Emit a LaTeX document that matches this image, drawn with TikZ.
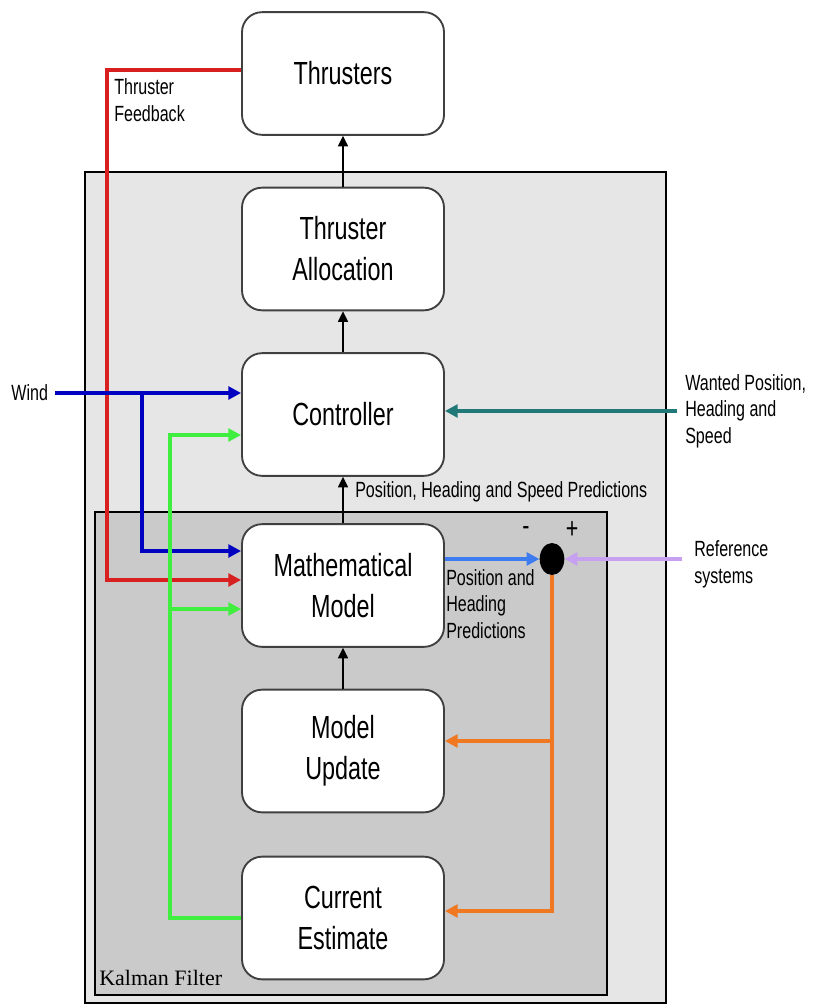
\documentclass[tikz,border=0pt]{standalone}
\usepackage{fontspec}
\setmainfont{Liberation Sans}[FakeStretch=0.73]
\newfontfamily\kfserif{Liberation Serif}
\usetikzlibrary{arrows.meta,calc,shapes.geometric}
\definecolor{outerfill}{HTML}{E6E6E6}
\definecolor{innerfill}{HTML}{CACACA}
\definecolor{cred}{HTML}{D82020}
\definecolor{cblue}{HTML}{0000C0}
\definecolor{cgreen}{HTML}{40EE40}
\definecolor{cteal}{HTML}{207878}
\definecolor{clblue}{HTML}{3C7CF0}
\definecolor{cpurple}{HTML}{C8A0F0}
\definecolor{corange}{HTML}{F07820}
\begin{document}
\begin{tikzpicture}[x=0.75pt,y=-0.75pt,
  blockbox/.style={draw=black!75, line width=1.4pt, rounded corners=15pt, fill=white,
    minimum width=151.5pt, minimum height=92pt, align=center, inner sep=0pt,
    font=\fontsize{24}{30.75}\selectfont},
  lbl/.style={font=\fontsize{16.5}{20}\selectfont, inner sep=0pt},
  flow/.style={line width=3pt, -{Triangle[length=9.5pt,width=9.5pt]}},
  up/.style={line width=1.2pt, -{Triangle[length=8pt,width=7.5pt]}}]
\useasboundingbox (0,0) rectangle (825,1006);
\fill[white] (0,0) rectangle (825,1006);
% group boxes
\draw[fill=outerfill, line width=0.9pt] (85,172) rectangle (666,1003);
\draw[fill=innerfill, line width=0.9pt] (95,512) rectangle (607,995);
\node[anchor=south west, inner sep=0pt, font=\kfserif\fontsize{16.5}{20}\selectfont] (kf) at (99,986) {Kalman Filter};
% blocks
\node[blockbox] (thr) at (343,73.5) {Thrusters};
\node[blockbox] (alloc) at (343,249) {Thruster\\Allocation};
\node[blockbox] (ctrl) at (343,414.5) {Controller};
\node[blockbox] (math) at (343,585.5) {Mathematical\\Model};
\node[blockbox] (mu) at (343,751) {Model\\Update};
\node[blockbox] (ce) at (343,918) {Current\\Estimate};
% vertical black arrows
\draw[up] (alloc.north) -- (thr.south);
\draw[up] (ctrl.north) -- (alloc.south);
\draw[up] (math.north) -- (ctrl.south);
\draw[up] (mu.north) -- (math.south);
% labels
\node[lbl, anchor=west, align=left] (tf) at (114,100) {Thruster\\Feedback};
\node[lbl, anchor=east, inner xsep=5pt] (wind) at (55,393) {Wind};
\node[lbl, anchor=west, align=left, inner xsep=6pt] (wanted) at (677,411) {Wanted Position,\\Heading and\\Speed};
\node[lbl, anchor=west, align=left, inner xsep=9pt] (ref) at (682,564) {Reference\\systems};
\node[lbl, anchor=west] (pred) at (355,492) {Position, Heading and Speed Predictions};
\node[lbl, anchor=north west, align=left] (phpred) at (446,569) {Position and\\Heading\\Predictions};
\node[inner sep=0pt, font=\fontsize{22}{22}\selectfont] (minus) at (526,531) {-};
\node[inner sep=0pt, font=\fontsize{22}{22}\selectfont] (plus) at (572,530) {+};
% summing junction
\node[ellipse, fill=black, minimum width=18.5pt, minimum height=24pt, inner sep=0pt] (sum) at (552,559) {};
% red thruster feedback
\coordinate (rc1) at (107,70);
\draw[cred, flow] ($(thr.west)+(0,-3.5)$) -- (rc1) |- ($(math.west)+(0,-5.5)$);
% blue wind
\coordinate (wb) at (142,393);
\draw[cblue, flow] (wind.east) -- ($(ctrl.west)+(0,-21.5)$);
\draw[cblue, flow] (wb) |- ($(math.west)+(0,-34.5)$);
% green current estimate
\coordinate (gc) at (170,918);
\coordinate (gb) at (170,609);
\draw[cgreen, flow] (ce.west) -- (gc) |- ($(ctrl.west)+(0,20.5)$);
\draw[cgreen, flow] (gb) -- ($(math.west)+(0,23.5)$);
% teal wanted
\draw[cteal, flow] (wanted.west) -- (wanted.west -| ctrl.east);
% light blue predictions
\draw[clblue, flow] (sum.west -| math.east) -- (sum.west);
% purple reference
\draw[cpurple, flow] (ref.west |- sum.east) -- (sum.east);
% orange corrections
\coordinate (ob) at (552,741);
\draw[corange, flow, line width=2.6pt] (sum.south) |- ($(ce.east)+(0,-7)$);
\draw[corange, flow, line width=2.6pt] (ob) -- ($(mu.east)+(0,-10)$);
\end{tikzpicture}
\end{document}
